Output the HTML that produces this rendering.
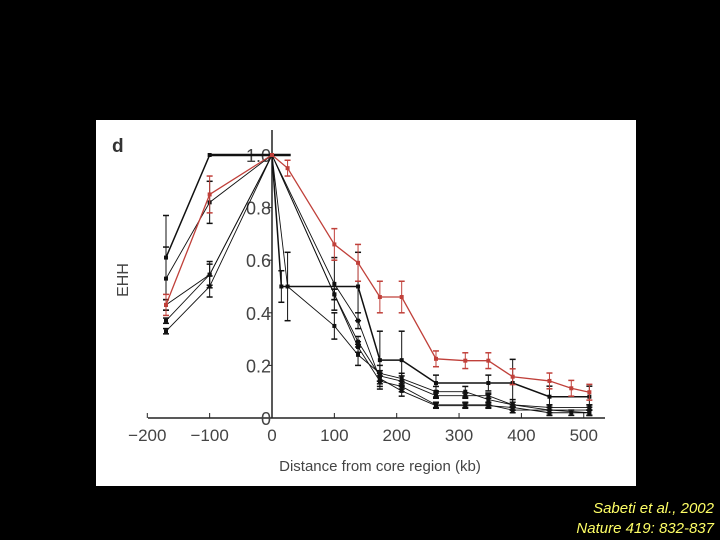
<!DOCTYPE html>
<html><head><meta charset="utf-8"><style>
body{margin:0;background:#000;width:720px;height:540px;overflow:hidden;font-family:"Liberation Sans",sans-serif}
#panel{position:absolute;left:96px;top:120px;width:540px;height:366px;background:#fff}
.cap{position:absolute;right:6px;color:#ffff66;font-style:italic;font-size:15px}
</style></head><body>
<div id="panel"></div>
<svg id="chart" width="720" height="540" style="position:absolute;left:0;top:0"></svg>
<div class="cap" style="top:500px">Sabeti et al., 2002</div>
<div class="cap" style="top:520px">Nature 419: 832-837</div>
<script>
const xTicks=[-200,-100,0,100,200,300,400,500];
const xTickLabels=["\u2212200","\u2212100","0","100","200","300","400","500"];
const yTicks=[0,0.2,0.4,0.6,0.8,1.0];
const yTickLabels=["0","0.2","0.4","0.6","0.8","1.0"];
const redX=[-170,-100,0,25,100,138,173,208,263,310,347,386,445,480,509];
const redY=[0.43,0.85,1.0,0.95,0.66,0.59,0.46,0.46,0.225,0.218,0.218,0.157,0.141,0.113,0.098];
const redErr=[0.04,0.07,0,0.03,0.06,0.07,0.06,0.06,0.03,0.03,0.03,0.03,0.03,0.03,0.03];
const s1X=[-170,-100,0,15,138,173,208,263,347,386,445,509];
const s1Y=[0.61,1.0,1.0,0.5,0.5,0.22,0.22,0.133,0.133,0.133,0.081,0.081];
const s1Err=[0.16,0,0,0.06,0.13,0.11,0.11,0.03,0.03,0.09,0.04,0.04];
const capX=[-100,30];
const capY=[1.0,1.0];
const s2X=[-170,-100,0,25,100,138,173,208,263,310,347,386,445,509];
const s2Y=[0.53,0.82,1.0,0.5,0.35,0.24,0.17,0.15,0.1,0.1,0.07,0.05,0.03,0.03];
const s2Err=[0.12,0.08,0,0.13,0.05,0.04,0.03,0.02,0.02,0.02,0.02,0.02,0.02,0.02];
const s3X=[-170,-100,0,100,138,173,208,263,310,347,386,445,480,509];
const s3Y=[0.43,0.545,1.0,0.51,0.37,0.15,0.103,0.047,0.047,0.047,0.04,0.02,0.02,0.02];
const s3Err=[0.02,0.05,0,0.1,0.03,0.02,0.02,0.01,0.01,0.01,0.01,0.01,0.01,0.01];
const s4X=[-170,-100,0,100,138,173,208,263,310,347,386,445,509];
const s4Y=[0.37,0.545,1.0,0.47,0.29,0.16,0.14,0.085,0.085,0.085,0.05,0.04,0.04];
const s4Err=[0.01,0.04,0,0.02,0.02,0.02,0.02,0.01,0.01,0.01,0.01,0.01,0.01];
const s5X=[-170,-100,0,100,138,173,208,263,310,347,386,445,509];
const s5Y=[0.33,0.5,1.0,0.47,0.27,0.14,0.12,0.05,0.05,0.05,0.03,0.03,0.02];
const s5Err=[0.01,0.04,0,0.02,0.02,0.02,0.02,0.01,0.01,0.01,0.01,0.01,0.01];

const X=v=>272+v*0.6235, Y=v=>418-v*263;
const svg=document.getElementById('chart'),NS='http://www.w3.org/2000/svg';
function mk(t,a,p){const e=document.createElementNS(NS,t);for(const k in a)e.setAttribute(k,a[k]);(p||svg).appendChild(e);return e;}
let e;
e=mk('line',{x1:148,y1:418,x2:605,y2:418,stroke:'#222','stroke-width':1.5});


e=mk('line',{x1:272,y1:130,x2:272,y2:418,stroke:'#222','stroke-width':1.5});


xTicks.forEach((t,i)=>{
 mk('line',{x1:X(t),y1:418,x2:X(t),y2:413,stroke:'#222'});
 e=mk('text',{x:X(t),y:441,'text-anchor':'middle','font-size':17,fill:'#444'});e.textContent=xTickLabels[i];
 
 
});
yTicks.forEach((t,i)=>{
 mk('line',{x1:267,y1:Y(t),x2:272,y2:Y(t),stroke:'#222'});
 e=mk('text',{x:271,y:Y(t)+7,'text-anchor':'end','font-size':18,fill:'#444'});e.textContent=yTickLabels[i];
 
 
});
e=mk('text',{x:380,y:471,'text-anchor':'middle','font-size':15,fill:'#444'});e.textContent='Distance from core region (kb)';


e=mk('text',{x:0,y:0,'text-anchor':'middle','font-size':16,fill:'#444',transform:'translate(128,280) rotate(-90)'});e.textContent='EHH';


e=mk('text',{x:112,y:152,'font-size':19,'font-weight':'bold',fill:'#333'});e.textContent='d';


function series(xs,ys,errs,col,w,name){
 const g=mk('g',{});
 
 
 mk('polyline',{points:xs.map((x,i)=>X(x)+','+Y(ys[i])).join(' '),fill:'none',stroke:col,'stroke-width':w},g);
 xs.forEach((x,i)=>{
  const cx=X(x),y1=Y(ys[i]+errs[i]),y2=Y(ys[i]-errs[i]);
  if(errs[i]>0){mk('line',{x1:cx,y1:y1,x2:cx,y2:y2,stroke:col,'stroke-width':1},g);
  mk('line',{x1:cx-3,y1:y1,x2:cx+3,y2:y1,stroke:col,'stroke-width':1.5},g);
  mk('line',{x1:cx-3,y1:y2,x2:cx+3,y2:y2,stroke:col,'stroke-width':1.5},g);}
  mk('rect',{x:cx-2,y:Y(ys[i])-2,width:4,height:4,fill:col},g);
 });
}
series(s5X,s5Y,s5Err,'#111',0.9,'series-5');
series(s4X,s4Y,s4Err,'#111',0.9,'series-4');
series(s3X,s3Y,s3Err,'#111',0.9,'series-3');
series(s2X,s2Y,s2Err,'#111',0.9,'series-2');
series(s1X,s1Y,s1Err,'#111',1.5,'series-1');
e=mk('polyline',{points:capX.map((x,i)=>X(x)+','+Y(capY[i])).join(' '),fill:'none',stroke:'#111','stroke-width':2.5});


series(redX,redY,redErr,'#c0403a',1.3,'series-red');
</script>
</body></html>
